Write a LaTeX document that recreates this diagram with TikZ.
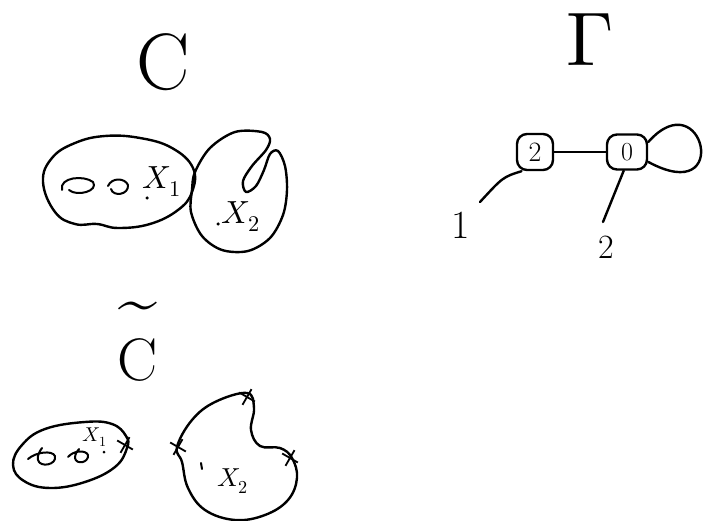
\documentclass[tikz,border=0pt]{standalone}
\usepackage{unicode-math}
\usetikzlibrary{shapes.misc}
\begin{document}
\begin{tikzpicture}[x=1pt,y=-1pt,
  sketch/.style={line width=2.4pt,line cap=round,line join=round},
  doodle/.style={line width=2pt,line cap=round,line join=round},
  gnode/.style={draw,sketch,rounded corners=10pt,inner sep=0pt},
  ptmark/.style={draw,cross out,line width=1.8pt,minimum size=11pt,inner sep=0pt,rotate=15},
  lbl/.style={inner sep=0pt},
  markdot/.style={fill,circle,inner sep=0pt,minimum size=3.5pt}]
\useasboundingbox (0,0) rectangle (704,521);

% ---------- the curve C ----------
\node[lbl,font=\fontsize{80}{80}\selectfont] (tC) at (163,62) {C};

% component X1 with two handles
\draw[sketch] plot[smooth cycle,tension=0.7] coordinates
  {(43,182) (52,158) (75,143) (105,136) (140,138) (172,148) (193,168)
   (192,192) (178,210) (150,224) (118,228) (97,224) (75,224) (55,212)};
\draw[doodle] (62,190) .. controls (59,177) and (84,175) .. (93,182)
  .. controls (99,191) and (77,197) .. (69,190);
\draw[doodle] (108,186) .. controls (112,177) and (125,178) .. (128,185)
  .. controls (129,195) and (113,197) .. (111,189);
\node[markdot] (p1) at (147,198) {};
\node[lbl,font=\fontsize{32}{32}\selectfont] (tX1) at (162,182) {$X_1$};

% component X2, pinched into a node at the top
\draw[sketch] plot[smooth cycle,tension=0.55] coordinates
  {(195,172) (210,148) (235,132) (262,132) (270,139) (266,150) (252,166)
   (243,181) (246,192) (256,186) (264,170) (270,154) (278,151) (285,166)
   (287,190) (283,215) (270,238) (248,251) (222,250) (202,236) (191,212)
   (192,190)};
\node[markdot] (p2) at (218,224) {};
\node[lbl,font=\fontsize{32}{32}\selectfont] (tX2) at (241,217) {$X_2$};

% ---------- the normalisation ----------
\node[lbl,font=\fontsize{70}{70}\selectfont] (tTl) at (138,313) {\char"007E};
\node[lbl,font=\fontsize{60}{60}\selectfont] (tCn) at (138,360) {C};

\draw[sketch] plot[smooth cycle,tension=0.7] coordinates
  {(13,465) (22,445) (45,429) (85,422) (112,424) (126,436) (127,448)
   (115,467) (85,482) (50,488) (24,481)};
\draw[doodle] (28,459) .. controls (36,452) and (52,450) .. (55,456)
  .. controls (57,465) and (40,468) .. (38,460) .. controls (37,455) and (40,451) .. (42,448);
\draw[doodle] (68,457) .. controls (74,450) and (86,450) .. (88,455)
  .. controls (89,463) and (76,465) .. (75,458) .. controls (75,454) and (77,451) .. (79,449);
\node[lbl,font=\fontsize{20}{20}\selectfont] (tY1) at (95,437) {$X_1$};
\node[markdot,minimum size=3pt] (q1) at (104,452) {};
\node[ptmark] (m1) at (125,445) {};

\draw[sketch] plot[smooth cycle,tension=0.65] coordinates
  {(177,447) (192,420) (215,402) (247,393) (254,408) (251,430) (260,446)
   (280,448) (292,458) (297,478) (288,500) (265,515) (235,520) (205,510)
   (188,488) (182,462)};
\node[ptmark] (m2) at (178,447) {};
\node[ptmark] (m3) at (247,397) {};
\node[ptmark] (m4) at (290,458) {};
\draw[doodle] (201,463) -- (202,469);
\node[lbl,font=\fontsize{26}{26}\selectfont] (tY2) at (233,481) {$X_2$};

% ---------- the dual graph ----------
\node[lbl,font=\fontsize{76}{76}\selectfont] (tG) at (590,40) {$\Gamma$};
\node[gnode,minimum width=36pt,minimum height=36pt,font=\fontsize{28}{28}\selectfont] (g2) at (535,152) {2};
\node[gnode,minimum width=40pt,minimum height=35pt,font=\fontsize{26}{26}\selectfont] (g0) at (627,152) {0};
\draw[sketch] (g2) -- (g0);
\draw[sketch] (g0.25) .. controls (703,80) and (733,208) .. (g0.-25);

\coordinate (e1) at (480,202);
\coordinate (e2) at (603,222);
\draw[sketch] (g2.-125) .. controls (503,177) .. (e1);
\draw[sketch] (g0.-100) -- (e2);
\node[lbl,font=\fontsize{40}{40}\selectfont] (t1) at (461,225) {1};
\node[lbl,font=\fontsize{34}{34}\selectfont] (t2) at (606,247) {2};
\end{tikzpicture}
\end{document}
